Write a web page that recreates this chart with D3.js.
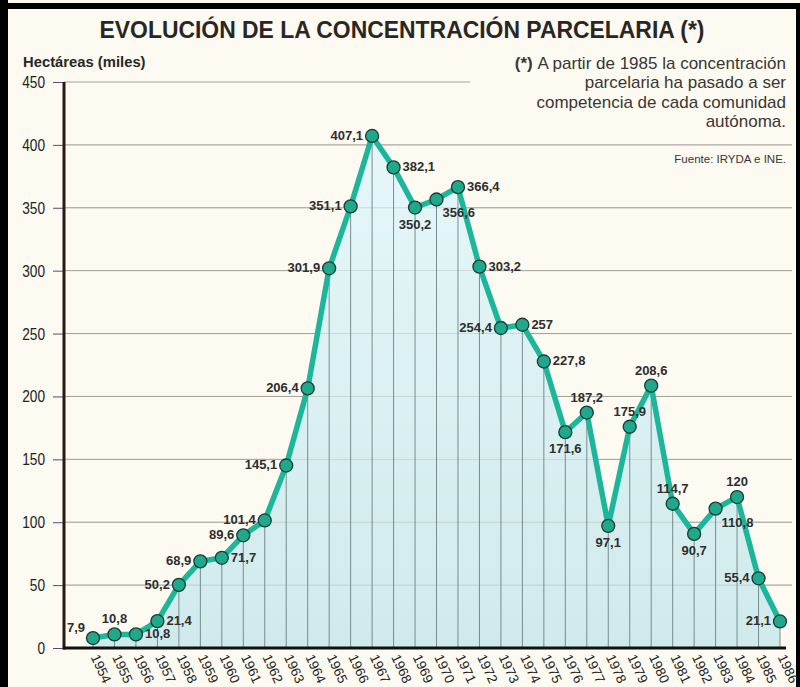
<!DOCTYPE html>
<html><head><meta charset="utf-8">
<script src="https://cdn.jsdelivr.net/npm/d3@7"></script>
<style>
html,body{margin:0;padding:0;background:#fff;}
svg{display:block;}
</style></head>
<body>
<svg id="c" width="800" height="687"></svg>
<script>
const years = [1954,1955,1956,1957,1958,1959,1960,1961,1962,1963,1964,1965,1966,1967,1968,1969,1970,1971,1972,1973,1974,1975,1976,1977,1978,1979,1980,1981,1982,1983,1984,1985,1986];
const hectares = [7.9,10.8,10.8,21.4,50.2,68.9,71.7,89.6,101.4,145.1,206.4,301.9,351.1,407.1,382.1,350.2,356.6,366.4,303.2,254.4,257,227.8,171.6,187.2,97.1,175.9,208.6,114.7,90.7,110.8,120,55.4,21.1];
const labelSide = ["ul","a","r","r","l","l","r","l","l","l","l","l","l","l","r","b","br","r","r","l","r","r","b","a","b","a","a","a","b","br","a","l","l"];
const yTicks = [0,50,100,150,200,250,300,350,400,450];
const title = "EVOLUCIÓN DE LA CONCENTRACIÓN PARCELARIA (*)";
const yTitle = "Hectáreas (miles)";
const noteLines = ["A partir de 1985 la concentración","parcelaria ha pasado a ser","competencia de cada comunidad","autónoma."];
const source = "Fuente: IRYDA e INE.";

const FONT = "'Liberation Sans',Arial,sans-serif";
const svg = d3.select("#c");
const W = 800, H = 687;

// background + frame
svg.append("rect").attr("width",W).attr("height",H).attr("fill","#fcfaf1");
svg.append("rect").attr("x",0).attr("y",0).attr("width",8).attr("height",H).attr("fill","#000");
svg.append("rect").attr("x",0).attr("y",3).attr("width",W).attr("height",6).attr("fill","#000");
svg.append("rect").attr("x",796).attr("y",3).attr("width",4).attr("height",H).attr("fill","#000");

const x = d3.scaleLinear().domain([1954,1986]).range([93,780]);
const y = d3.scaleLinear().domain([0,450]).range([648,82]);

const data = years.map((yr,i)=>({yr, v:hectares[i], side:labelSide[i]}));

// gradient
const defs = svg.append("defs");
const g = defs.append("linearGradient").attr("id","fillg").attr("x1",0).attr("y1",0).attr("x2",0).attr("y2",1);
g.append("stop").attr("offset","0%").attr("stop-color","#e6f7fa");
g.append("stop").attr("offset","100%").attr("stop-color","#d0eaeb");

// gridlines
svg.append("g").selectAll("line").data(yTicks.filter(t=>t>0)).join("line")
  .attr("x1",64).attr("x2",t=> t===450 ? 470 : 792)
  .attr("y1",t=>y(t)).attr("y2",t=>y(t))
  .attr("stroke","#a39b90").attr("stroke-width",0.9);

// area
const area = d3.area().x(d=>x(d.yr)).y0(y(0)).y1(d=>y(d.v));
svg.append("path").datum(data).attr("d",area).attr("fill","url(#fillg)");

// gridlines faintly inside area
svg.append("g").selectAll("line").data(yTicks.filter(t=>t>0 && t<450)).join("line")
  .attr("x1",64).attr("x2",792)
  .attr("y1",t=>y(t)).attr("y2",t=>y(t))
  .attr("stroke","#8f9a96").attr("stroke-width",0.6).attr("opacity",0.5);

// vertical lines
svg.append("g").selectAll("line").data(data).join("line")
  .attr("x1",d=>x(d.yr)).attr("x2",d=>x(d.yr))
  .attr("y1",d=>y(d.v)).attr("y2",y(0))
  .attr("stroke","#5f7474").attr("stroke-width",0.8);

// y axis
const yAxis = d3.axisLeft(y).tickValues(yTicks).tickSize(11).tickPadding(8).tickFormat(d3.format("d"));
const ya = svg.append("g").attr("transform","translate(64,0)").call(yAxis);
ya.select(".domain").remove();
ya.selectAll(".tick line").attr("stroke","#5a4a7a").attr("stroke-width",1);
ya.selectAll(".tick text").attr("font-family",FONT).attr("font-size",17).attr("fill","#222")
  .attr("textLength",d=>String(d).length*7.6).attr("lengthAdjust","spacingAndGlyphs");
svg.append("line").attr("x1",64).attr("x2",64).attr("y1",y(450)).attr("y2",y(0)+1.5)
  .attr("stroke","#2a1a12").attr("stroke-width",3);

// x axis
const xAxis = d3.axisBottom(x).tickValues(years).tickSize(0).tickFormat(d3.format("d"));
const xa = svg.append("g").attr("transform",`translate(0,${y(0)})`).call(xAxis);
xa.select(".domain").remove();
xa.selectAll(".tick text")
  .attr("font-family",FONT).attr("font-size",13.5).attr("fill","#222")
  .attr("text-anchor","start").attr("y",0).attr("dy",0)
  .attr("transform","translate(-3,9) rotate(65)");
svg.append("line").attr("x1",63).attr("x2",786).attr("y1",y(0)).attr("y2",y(0))
  .attr("stroke","#111").attr("stroke-width",3.2);

// line
const line = d3.line().x(d=>x(d.yr)).y(d=>y(d.v));
svg.append("path").datum(data).attr("d",line).attr("fill","none")
  .attr("stroke","#1cb79b").attr("stroke-width",5.5).attr("stroke-linejoin","round");

// points
svg.append("g").selectAll("circle").data(data).join("circle")
  .attr("cx",d=>x(d.yr)).attr("cy",d=>y(d.v)).attr("r",6.5)
  .attr("fill","#1fa98c").attr("stroke","#1c3a33").attr("stroke-width",1.3);

// labels
const loc = d3.formatLocale({decimal:",",thousands:".",grouping:[3],currency:["","€"]});
const f1 = loc.format(".1f"), f0 = loc.format("d");
const off = {
  l:{dx:-9,dy:4,a:"end"}, r:{dx:9,dy:4,a:"start"}, a:{dx:0,dy:-11,a:"middle"},
  b:{dx:0,dy:21,a:"middle"}, ul:{dx:-8,dy:-6,a:"end"}, br:{dx:6,dy:18,a:"start"}
};
svg.append("g").selectAll("text").data(data).join("text")
  .attr("x",d=>x(d.yr)+off[d.side].dx).attr("y",d=>y(d.v)+off[d.side].dy)
  .attr("text-anchor",d=>off[d.side].a)
  .attr("font-family",FONT).attr("font-size",13).attr("font-weight","bold").attr("fill","#2e2e2e")
  .text(d=> Number.isInteger(d.v) ? f0(d.v) : f1(d.v));

// title
svg.append("text").attr("x",402).attr("y",38).attr("text-anchor","middle")
  .attr("font-family",FONT).attr("font-size",23).attr("font-weight","bold").attr("fill","#2a2624")
  .attr("textLength",605).attr("lengthAdjust","spacingAndGlyphs").text(title);

// y title
svg.append("text").attr("x",23).attr("y",67)
  .attr("font-family",FONT).attr("font-size",14.8).attr("font-weight","bold").attr("fill","#2a2624")
  .text(yTitle);

// note
const nt = svg.append("g").attr("font-family",FONT).attr("font-size",17).attr("fill","#3a3633");
noteLines.forEach((s,i)=>{
  const t = nt.append("text").attr("x",786).attr("y",69+i*19.3).attr("text-anchor","end");
  if(i===0){ t.append("tspan").attr("font-weight","bold").text("(*) "); }
  t.append("tspan").text(s);
});
svg.append("text").attr("x",786).attr("y",163).attr("text-anchor","end")
  .attr("font-family",FONT).attr("font-size",11.5).attr("fill","#3a3633").text(source);
</script>
</body></html>
